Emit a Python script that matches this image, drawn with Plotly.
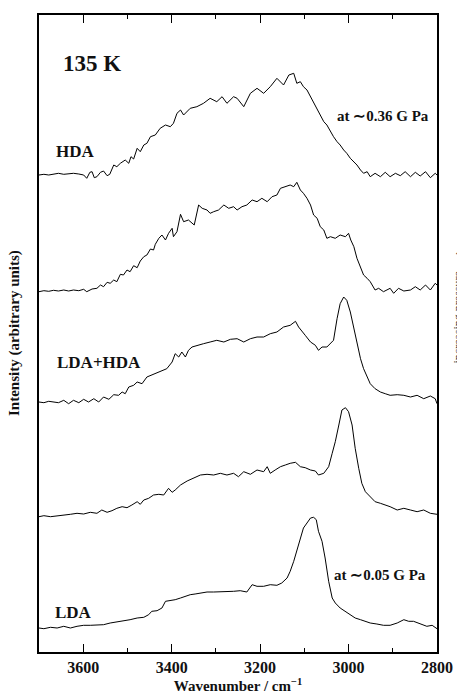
import plotly.graph_objects as go

# ---- data (intensity in arbitrary units above each baseline) ----
labels = ["LDA (~0.05 GPa)", "spectrum 2", "LDA+HDA", "spectrum 4", "HDA (~0.36 GPa)"]
offsets = [24, 136, 250, 361, 477]

wn_hda = [3700, 3689, 3678, 3667, 3656, 3644, 3633, 3622, 3610, 3599, 3592, 3585, 3580, 3575, 3569, 3561,
          3554, 3546, 3540, 3531, 3524, 3516, 3505, 3497, 3492, 3486, 3478, 3471, 3463, 3456, 3448, 3437,
          3426, 3414, 3403, 3396, 3388, 3380, 3373, 3358, 3343, 3328, 3313, 3298, 3286, 3275, 3260, 3252,
          3237, 3222, 3207, 3192, 3177, 3162, 3147, 3135, 3124, 3117, 3109, 3102, 3094, 3086, 3079, 3071,
          3064, 3056, 3049, 3041, 3034, 3026, 3019, 3011, 3004, 2996, 2988, 2981, 2973, 2966, 2958, 2951,
          2940, 2928, 2917, 2906, 2894, 2883, 2872, 2860, 2849, 2838, 2826, 2815, 2804, 2800]
int_hda = [0, 0.7, 0, 1, 1.7, 0.7, 1.3, 1.7, 1, 0, -3.3, 2.7, 3.3, -2.7, -1.7, 2.7,
           4, -0.7, 0.7, 10, 8.3, 11.7, 15, 11.7, 18.3, 16, 26.7, 23.3, 30, 31.7, 38.3, 40,
           46.7, 50, 48.3, 51.7, 61.7, 65, 60, 66.7, 68.3, 71.7, 76.7, 73.3, 78.3, 71.7, 78.3, 76.7,
           68.3, 81.7, 86.7, 81.7, 88.3, 96.7, 90, 100, 101.7, 91.7, 93.3, 88.3, 85, 78.3, 71.7, 65,
           60, 53.3, 50, 43.3, 38.3, 33.3, 30, 25, 21.7, 16.7, 13.3, 10, 5, 1.7, 3.3, -1.7,
           1.7, -1.7, 2.7, -1.7, 1.7, -0.7, 3.3, -1.7, 2.7, -1, 3.3, -2.7, 1.7, 0]

wn_s4 = [3700, 3689, 3678, 3667, 3656, 3644, 3633, 3622, 3610, 3599, 3592, 3580, 3569, 3561, 3554, 3546,
         3539, 3531, 3524, 3516, 3509, 3501, 3494, 3486, 3478, 3471, 3463, 3456, 3448, 3441, 3437, 3429,
         3422, 3414, 3407, 3399, 3396, 3388, 3380, 3373, 3362, 3354, 3349, 3339, 3331, 3320, 3313, 3305,
         3294, 3282, 3271, 3260, 3252, 3241, 3230, 3218, 3207, 3196, 3184, 3173, 3162, 3154, 3143, 3132,
         3124, 3117, 3109, 3102, 3094, 3086, 3079, 3071, 3064, 3056, 3049, 3041, 3030, 3019, 3007, 3000,
         2995, 2988, 2981, 2973, 2966, 2958, 2951, 2940, 2932, 2921, 2906, 2898, 2887, 2875, 2860, 2849,
         2838, 2826, 2815, 2804, 2800]
int_s4 = [-0.7, 0.3, -0.3, 0.7, 0, 1, 0, 1, 0.3, 1.7, -0.7, 2, 2.7, 6, 4.3, 8.7,
          7.7, 11, 9.3, 16.7, 16, 21, 19.3, 25.3, 23.3, 30, 34.3, 36, 42, 41, 46.7, 52.7,
          56, 51, 57.7, 62.7, 54.3, 59.3, 76.7, 69.3, 71, 67.7, 66, 86, 82.7, 81, 77.7, 79.3,
          81, 86, 82.7, 84.3, 81, 84.3, 86, 91, 89.3, 92.7, 89.3, 94.3, 96, 102.7, 104.3, 106,
          104.3, 108.7, 101, 97.7, 92.7, 86, 76, 72.7, 64.3, 61, 52.7, 54.3, 52.7, 56, 54.3, 57.7,
          51, 44.3, 32.7, 22.7, 16, 12.7, 9.3, 1, 2.7, -0.7, 2.7, -2.3, 2.7, 0, 1, 4.3,
          1, 6, 1, 7.7, 6]

wn_mix = [3700, 3689, 3678, 3667, 3656, 3644, 3633, 3622, 3610, 3599, 3588, 3576, 3565, 3554, 3542, 3531,
          3520, 3512, 3505, 3497, 3486, 3478, 3467, 3456, 3444, 3433, 3422, 3411, 3399, 3392, 3384, 3377,
          3369, 3362, 3354, 3343, 3328, 3313, 3298, 3282, 3267, 3252, 3237, 3222, 3207, 3192, 3177, 3162,
          3147, 3132, 3120, 3113, 3105, 3098, 3086, 3075, 3068, 3060, 3049, 3041, 3034, 3026, 3019, 3011,
          3004, 2996, 2988, 2981, 2973, 2966, 2958, 2951, 2940, 2928, 2917, 2906, 2890, 2875, 2860, 2845,
          2830, 2815, 2804, 2800]
int_mix = [0, -0.7, 0.7, 0, -0.7, 1.7, -1.7, 1.7, -0.7, 2.7, 0, 3.3, 0, 5, 2.7, 7.3,
           6.7, 10, 8.3, 15, 16.7, 20, 18.3, 25, 27.3, 29.3, 31.7, 33.3, 40, 48.3, 45, 50,
           45, 51.7, 55, 56.7, 58.3, 60, 61.7, 60, 62.7, 63.3, 60, 63.3, 65, 65, 68.3, 70,
           75, 76.7, 80.7, 75, 70, 66.7, 60, 56.7, 51.7, 55, 55, 58.3, 61.7, 83.3, 98.3, 105,
           101.7, 90, 73.3, 58.3, 43.3, 33.3, 25, 18.3, 13.3, 10, 8.3, 6.7, 7.3, 6.7, 5, 6.7,
           3.3, 6, 3.3, -1.7]

wn_s2 = [3700, 3689, 3674, 3659, 3644, 3629, 3614, 3599, 3584, 3569, 3558, 3546, 3535, 3524, 3512, 3501,
         3490, 3478, 3471, 3463, 3452, 3441, 3429, 3418, 3407, 3399, 3392, 3380, 3365, 3350, 3335, 3320,
         3305, 3290, 3275, 3260, 3249, 3237, 3222, 3207, 3192, 3184, 3177, 3166, 3154, 3143, 3132, 3120,
         3109, 3098, 3086, 3075, 3068, 3056, 3045, 3037, 3030, 3022, 3015, 3007, 3000, 2992, 2985, 2977,
         2970, 2962, 2951, 2940, 2928, 2917, 2906, 2890, 2875, 2860, 2845, 2830, 2815, 2800]
int_s2 = [-0.7, 0.3, -0.7, 0, 0.3, 1.7, 2.7, 2, 3.7, 2.7, 6, 3.7, 5.3, 7.7, 9.3, 8.3,
          11, 14.3, 11.7, 16, 17.7, 21, 21.7, 21, 27.7, 23.7, 26, 31, 35, 38.3, 41, 41.7,
          41, 42.7, 41, 42.7, 39.3, 44.3, 41.7, 46, 44.3, 49.3, 42.7, 46, 49.3, 51, 52.7, 53.7,
          49.3, 48.3, 46, 45, 41, 42.7, 49.3, 62.7, 74.3, 91, 106, 108.3, 104.3, 91, 67.7, 47.7,
          32.7, 24.3, 19.3, 14.3, 12.7, 11, 9.3, 6, 7.7, 6, 4.3, 6, 2.7, 1.7]

wn_lda = [3700, 3689, 3674, 3659, 3644, 3629, 3614, 3599, 3584, 3569, 3554, 3539, 3524, 3509, 3494, 3478,
          3463, 3452, 3445, 3433, 3422, 3414, 3403, 3392, 3380, 3369, 3358, 3347, 3335, 3320, 3305, 3290,
          3275, 3260, 3245, 3230, 3218, 3207, 3192, 3177, 3162, 3151, 3139, 3132, 3124, 3117, 3109, 3102,
          3094, 3086, 3079, 3073, 3068, 3060, 3053, 3045, 3037, 3030, 3019, 3007, 2996, 2985, 2973, 2962,
          2951, 2936, 2921, 2906, 2890, 2875, 2864, 2853, 2838, 2823, 2811, 2800]
int_lda = [0, -0.7, 0.7, 0, 1.7, 0, 1.7, 2.7, 2.7, 3.3, 3.3, 5, 6, 6.7, 8.3, 10,
           10.7, 13.3, 16.7, 17.3, 20, 26.7, 27.3, 28.3, 30, 31.7, 33.3, 34, 35, 36, 36, 36,
           36.7, 36.7, 37.3, 36, 43.3, 41.7, 41.7, 43.3, 42.7, 45, 50, 56.7, 66.7, 76.7, 90, 100,
           105, 110, 110.7, 108.3, 96.7, 86.7, 70, 46.7, 30, 25, 20, 16.7, 13.3, 10, 8.3, 6.7,
           5, 4, 2.7, 2.7, 5, 8.3, 6.7, 6.7, 4, 1.7, 2.7, -0.7]

series_wn = [wn_lda, wn_s2, wn_mix, wn_s4, wn_hda]
series_int = [int_lda, int_s2, int_mix, int_s4, int_hda]

tick_vals = [3600, 3400, 3200, 3000, 2800]
tick_text = ["3600", "3400", "3200", "3000", "2800"]
minor_vals = [3700, 3500, 3300, 3100, 2900]

# ---- figure geometry (pixels) ----
W, H = 457, 700
L, R, T, B = 39, 20, 15, 48
PW, PH = W - L - R, H - T - B


def px(x):
    return (x - L) / PW


def py(y):
    return (H - B - y) / PH


SERIF = "Liberation Serif, Times New Roman, serif"

fig = go.Figure()
for name, off, xs, ys in zip(labels, offsets, series_wn, series_int):
    n = min(len(xs), len(ys))
    fig.add_trace(go.Scatter(
        x=xs[:n], y=[off + v for v in ys[:n]], mode="lines", name=name,
        line=dict(color="black", width=1), showlegend=False, hoverinfo="skip"))

fig.update_layout(
    width=W, height=H, margin=dict(l=L, r=R, t=T, b=B, pad=0, autoexpand=False),
    paper_bgcolor="white", plot_bgcolor="white",
    font=dict(family=SERIF, color="black"),
)

fig.update_xaxes(
    range=[3700, 2800], showgrid=False, zeroline=False, automargin=False,
    showline=True, linecolor="black", linewidth=2, mirror="ticks",
    ticks="inside", ticklen=8, tickwidth=1.3, tickcolor="black",
    tickvals=tick_vals, ticktext=["<b>%s</b>" % t for t in tick_text],
    tickfont=dict(family=SERIF, size=16, color="#111"),
    minor=dict(tickvals=minor_vals, ticks="inside", ticklen=4, tickwidth=1.3, tickcolor="black"),
    title=dict(text="<b>Wavenumber / cm<sup>−1</sup></b>", font=dict(family=SERIF, size=15, color="#111"), standoff=1),
)
fig.update_yaxes(
    range=[0, PH], showgrid=False, zeroline=False, showticklabels=False, automargin=False,
    showline=True, linecolor="black", linewidth=2, mirror=True, ticks="",
)

# y-axis title placed as rotated text left of the frame
fig.add_annotation(text="<b>Intensity (arbitrary units)</b>", xref="paper", yref="paper",
                   x=px(14), y=py(333), xanchor="center", yanchor="middle", textangle=-90,
                   showarrow=False, font=dict(family=SERIF, size=15, color="#111"))

annots = [
    ("<b>135 K</b>", 61, 64, 23),
    ("<b>HDA</b>", 54, 152, 17),
    ("<b>at ∼0.36 G Pa</b>", 335, 116, 15),
    ("<b>LDA+HDA</b>", 55, 362, 17),
    ("<b>LDA</b>", 53, 612, 17),
    ("<b>at ∼0.05 G Pa</b>", 332, 575, 15),
]
for text, x, y, size in annots:
    fig.add_annotation(text=text, xref="paper", yref="paper", x=px(x), y=py(y),
                       xanchor="left", yanchor="middle", showarrow=False,
                       font=dict(family=SERIF, size=size, color="#111"))

fig.add_annotation(text="increasing pressure ⟶", xref="paper", yref="paper",
                   x=px(457.5), y=py(308), xanchor="center", yanchor="middle",
                   textangle=-90, showarrow=False,
                   font=dict(family=SERIF, size=12, color="#333"))

fig.write_html("out.html", config={"displayModeBar": False},
               post_script="document.body.style.margin='0';document.body.style.overflow='hidden';")
